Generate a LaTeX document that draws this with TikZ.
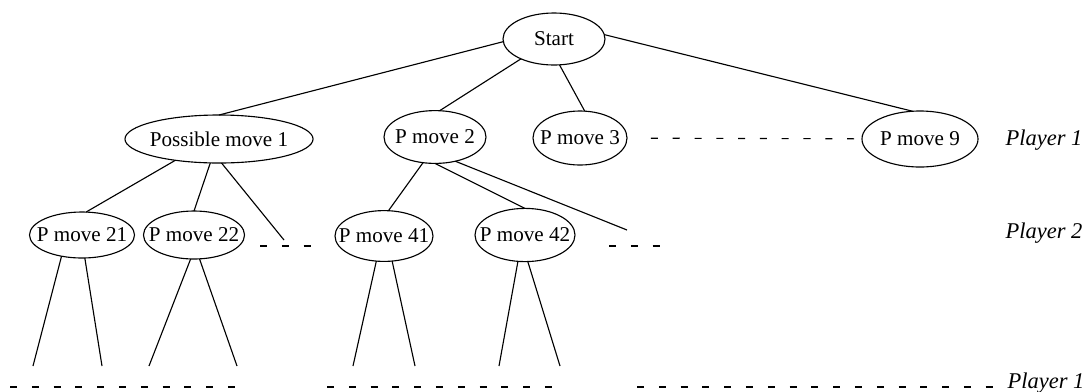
\documentclass[tikz,border=0pt]{standalone}
\usepackage{fontspec}
\setmainfont{Liberation Serif}
\usetikzlibrary{shapes.geometric}

\begin{document}
\begin{tikzpicture}[x=0.025cm,y=-0.025cm,line width=0.8pt,move/.style={draw,ellipse,inner xsep=-40pt,inner ysep=0pt,outer sep=0pt,font=\fontsize{15}{17}\selectfont},who/.style={anchor=base west,inner sep=0pt,font=\fontsize{16}{18}\selectfont\itshape},gap/.style={dash pattern=on 5pt off 10.5pt}]
\useasboundingbox (0,0) rectangle (1086,391);
\node[move,minimum width=2.55cm,minimum height=1.3cm] (start) at (554,39) {Start};
\node[move,minimum width=4.7cm,minimum height=1.2cm] (pm1) at (219,139) {Possible move 1};
\node[move,minimum width=2.55cm,minimum height=1.32cm] (pm2) at (435,137) {P move 2};
\node[move,minimum width=2.35cm,minimum height=1.35cm] (pm3) at (580,138) {P move 3};
\node[move,minimum width=2.9cm,minimum height=1.4cm] (pm9) at (920,139) {P move 9};
\node[move,minimum width=2.625cm,minimum height=1.15cm] (pm21) at (82,235) {P move 21};
\node[move,minimum width=2.525cm,minimum height=1.2cm] (pm22) at (194,235) {P move 22};
\node[move,minimum width=2.45cm,minimum height=1.27cm] (pm41) at (384,236) {P move 41};
\node[move,minimum width=2.5cm,minimum height=1.33cm] (pm42) at (525,235) {P move 42};
\node[who] (pl1) at (1005,145) {Player 1};
\node[who] (pl2) at (1005,238) {Player 2};
\node[who] (pl3) at (1007,388) {Player 1};
\coordinate (e1) at (284,240);\coordinate (e2) at (627,230);
\coordinate (l21a) at (33,366);\coordinate (l21b) at (102,366);\coordinate (l22a) at (149,366);\coordinate (l22b) at (237,366);
\coordinate (l41a) at (353,366);\coordinate (l41b) at (415,366);\coordinate (l42a) at (499,366);\coordinate (l42b) at (560,366);
\draw (start.183)--(pm1.north);\draw (start.211)--(pm2.80);\draw (start.282)--(pm3.80);\draw (start.5)--(pm9.105);
\draw (pm1.206)--(pm21.80);\draw (pm1.250)--(pm22.north);\draw (pm1.276)--(e1);
\draw (pm2.245)--(pm41.80);\draw (pm2.south)--(pm42.north);\draw (pm2.310)--(e2);
\draw (pm21.226)--(l21a);\draw (pm21.277)--(l21b);\draw (pm22.262)--(l22a);\draw (pm22.283)--(l22b);
\draw (pm41.253)--(l41a);\draw (pm41.288)--(l41b);\draw (pm42.255)--(l42a);\draw (pm42.276)--(l42b);
\draw[gap,shorten <=17pt,shorten >=5pt] (pm3)--(pm9);
\draw[gap] (260,246)--(316,246);\draw[gap] (609,246)--(668,246);
\draw[gap] (10,387)--(249,387);\draw[gap] (327,387)--(564,387);\draw[gap] (637,387)--(995,387);
\end{tikzpicture}
\end{document}
